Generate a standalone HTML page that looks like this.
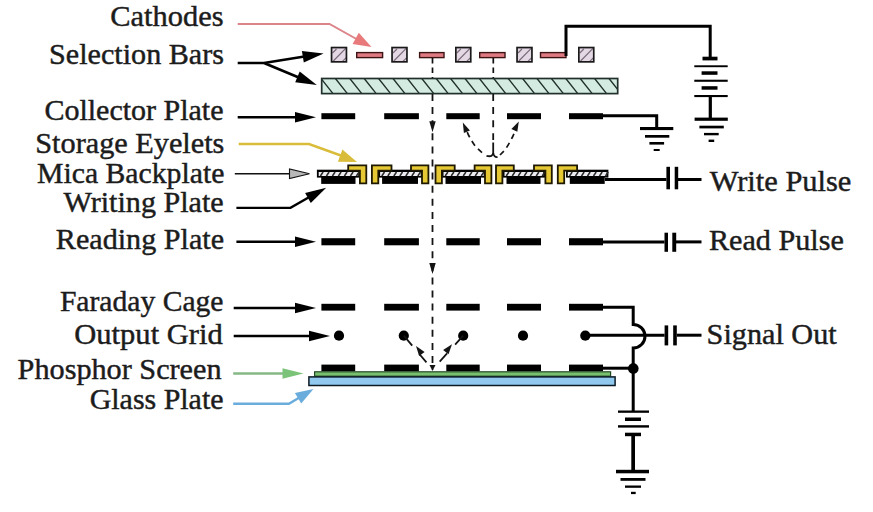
<!DOCTYPE html>
<html><head><meta charset="utf-8"><style>
html,body{margin:0;padding:0;background:#fff;width:873px;height:512px;overflow:hidden}
svg{display:block}
.t{font-family:"Liberation Serif",serif;font-size:30px;fill:#1c1c1c;stroke:#1c1c1c;stroke-width:0.45px}
</style></head><body>
<svg width="873" height="512" viewBox="0 0 873 512">
<rect width="873" height="512" fill="#fff"/>
<text transform="translate(110.29,0) scale(1.0146,1)" x="0" y="26.4" class="t">Cathodes</text>
<text transform="translate(49.09,0) scale(1.0047,1)" x="0" y="64.5" class="t">Selection Bars</text>
<text transform="translate(44.40,0) scale(1.0000,1)" x="0" y="120.0" class="t">Collector Plate</text>
<text transform="translate(35.28,0) scale(1.0092,1)" x="0" y="153.0" class="t">Storage Eyelets</text>
<text transform="translate(37.01,0) scale(0.9909,1)" x="0" y="183.5" class="t">Mica Backplate</text>
<text transform="translate(63.50,0) scale(1.0038,1)" x="0" y="212.5" class="t">Writing Plate</text>
<text transform="translate(55.80,0) scale(1.0048,1)" x="0" y="248.6" class="t">Reading Plate</text>
<text transform="translate(59.91,0) scale(0.9872,1)" x="0" y="310.9" class="t">Faraday Cage</text>
<text transform="translate(74.28,0) scale(1.0187,1)" x="0" y="343.9" class="t">Output Grid</text>
<text transform="translate(17.60,0) scale(1.0074,1)" x="0" y="379.3" class="t">Phosphor Screen</text>
<text transform="translate(89.70,0) scale(0.9977,1)" x="0" y="409.5" class="t">Glass Plate</text>
<text transform="translate(709.70,0) scale(1.0151,1)" x="0" y="190.6" class="t">Write Pulse</text>
<text transform="translate(708.90,0) scale(1.0060,1)" x="0" y="249.6" class="t">Read Pulse</text>
<text transform="translate(706.59,0) scale(1.0071,1)" x="0" y="343.8" class="t">Signal Out</text>
<path d="M237.7,24 H329.5 L360,41" fill="none" stroke="#dc8489" stroke-width="2"/>
<polygon points="371.5,47.0 352.6,44.1 358.8,32.7" fill="#e87a7c"/>
<path d="M237.7,63 H264 L306,56.3 M264,63 L300,78" fill="none" stroke="#000" stroke-width="2.6"/>
<polygon points="323.6,53.4 303.8,62.5 301.9,51.0" fill="#000"/>
<polygon points="316.8,85.1 295.2,82.3 299.7,71.6" fill="#000"/>
<path d="M237.7,117.2 H300" fill="none" stroke="#000" stroke-width="2.4"/>
<polygon points="316.0,117.2 295.0,122.5 295.0,111.9" fill="#000"/>
<path d="M238.7,144 H309 L345,157" fill="none" stroke="#d9bd3a" stroke-width="2.4"/>
<polygon points="357.0,162.0 337.9,161.8 342.4,149.6" fill="#d9bd3a"/>
<path d="M234.8,173.8 H292" fill="none" stroke="#111" stroke-width="1.6"/>
<polygon points="309.5,173.8 289.5,178.6 289.5,169.0" fill="#b8b8b8" stroke="#111" stroke-width="1.1" stroke-linejoin="miter"/>
<path d="M236.4,207.9 H290.5 L312,195.5" fill="none" stroke="#000" stroke-width="2.4"/>
<polygon points="326.2,187.7 310.8,203.1 305.1,193.0" fill="#000"/>
<path d="M236.4,241.8 H300" fill="none" stroke="#000" stroke-width="2.4"/>
<polygon points="316.0,241.8 295.0,247.1 295.0,236.5" fill="#000"/>
<path d="M233.7,308 H300" fill="none" stroke="#000" stroke-width="2.4"/>
<polygon points="316.0,308.0 295.0,313.3 295.0,302.7" fill="#000"/>
<path d="M233.7,336 H314" fill="none" stroke="#000" stroke-width="2.4"/>
<polygon points="330.0,336.0 309.0,341.3 309.0,330.7" fill="#000"/>
<path d="M233.2,373.5 H288" fill="none" stroke="#86b886" stroke-width="2.4"/>
<polygon points="303.5,373.5 282.5,378.8 282.5,368.2" fill="#7cc37a"/>
<path d="M233.2,403.7 H288.9 L302,396" fill="none" stroke="#6aacdc" stroke-width="2.4"/>
<polygon points="313.5,389.0 301.2,403.6 294.9,392.9" fill="#6aacdc"/>
<g><rect x="331.55" y="47.55" width="14.9" height="14.3" fill="#e4d8e4"/><path d="M332.5,53 L336.5,49 M333.3,61 L345.7,48.4 M342.7,61.2 L346.3,57.6" stroke="#7b6b7b" stroke-width="1.2" fill="none"/><rect x="331.55" y="47.55" width="14.9" height="14.3" fill="none" stroke="#1a1a1a" stroke-width="1.7"/></g>
<g><rect x="392.05" y="47.55" width="14.9" height="14.3" fill="#e4d8e4"/><path d="M393.0,53 L397.0,49 M393.8,61 L406.2,48.4 M403.2,61.2 L406.8,57.6" stroke="#7b6b7b" stroke-width="1.2" fill="none"/><rect x="392.05" y="47.55" width="14.9" height="14.3" fill="none" stroke="#1a1a1a" stroke-width="1.7"/></g>
<g><rect x="455.85" y="47.55" width="14.9" height="14.3" fill="#e4d8e4"/><path d="M456.8,53 L460.8,49 M457.6,61 L470,48.4 M467,61.2 L470.6,57.6" stroke="#7b6b7b" stroke-width="1.2" fill="none"/><rect x="455.85" y="47.55" width="14.9" height="14.3" fill="none" stroke="#1a1a1a" stroke-width="1.7"/></g>
<g><rect x="517.0500000000001" y="47.55" width="14.9" height="14.3" fill="#e4d8e4"/><path d="M518.0,53 L522.0,49 M518.8000000000001,61 L531.2,48.4 M528.2,61.2 L531.8000000000001,57.6" stroke="#7b6b7b" stroke-width="1.2" fill="none"/><rect x="517.0500000000001" y="47.55" width="14.9" height="14.3" fill="none" stroke="#1a1a1a" stroke-width="1.7"/></g>
<g><rect x="578.85" y="47.55" width="14.9" height="14.3" fill="#e4d8e4"/><path d="M579.8,53 L583.8,49 M580.6,61 L593,48.4 M590,61.2 L593.6,57.6" stroke="#7b6b7b" stroke-width="1.2" fill="none"/><rect x="578.85" y="47.55" width="14.9" height="14.3" fill="none" stroke="#1a1a1a" stroke-width="1.7"/></g>
<rect x="356.7" y="52.6" width="25.900000000000013" height="5" fill="#e07a82" stroke="#3d1416" stroke-width="1.4"/>
<rect x="419.59999999999997" y="52.6" width="24.400000000000013" height="5" fill="#e07a82" stroke="#3d1416" stroke-width="1.4"/>
<rect x="479.7" y="52.6" width="25.29999999999999" height="5" fill="#e07a82" stroke="#3d1416" stroke-width="1.4"/>
<rect x="540.5" y="52.6" width="25.500000000000092" height="5" fill="#e07a82" stroke="#3d1416" stroke-width="1.4"/>
<path d="M432.5,58 V78 M493.3,58 V78" stroke="#111" stroke-width="1.7" stroke-dasharray="5.5 4" fill="none"/>
<clipPath id="gp"><rect x="321.7" y="78.5" width="296" height="15.1"/></clipPath>
<rect x="321.7" y="78.5" width="296" height="15.1" fill="#d3ebe1"/>
<path d="M306.6,78.5 L318.6,93.6 M321.0,78.5 L333.0,93.6 M335.4,78.5 L347.4,93.6 M349.8,78.5 L361.8,93.6 M364.2,78.5 L376.2,93.6 M378.6,78.5 L390.6,93.6 M393.0,78.5 L405.0,93.6 M407.4,78.5 L419.4,93.6 M421.8,78.5 L433.8,93.6 M436.2,78.5 L448.2,93.6 M450.6,78.5 L462.6,93.6 M465.0,78.5 L477.0,93.6 M479.4,78.5 L491.4,93.6 M493.8,78.5 L505.8,93.6 M508.2,78.5 L520.2,93.6 M522.6,78.5 L534.6,93.6 M537.0,78.5 L549.0,93.6 M551.4,78.5 L563.4,93.6 M565.8,78.5 L577.8,93.6 M580.2,78.5 L592.2,93.6 M594.6,78.5 L606.6,93.6 M609.0,78.5 L621.0,93.6 M623.4,78.5 L635.4,93.6 " stroke="#22302b" stroke-width="1.35" clip-path="url(#gp)" fill="none"/>
<rect x="321.7" y="78.5" width="296" height="15.1" fill="none" stroke="#22302b" stroke-width="1.7"/>
<path d="M566,56 V26.2 H710.2 V57" fill="none" stroke="#000" stroke-width="3"/>
<rect x="702.5" y="56.7" width="15.0" height="3.6999999999999957" fill="#000"/>
<rect x="694.3" y="65.3" width="33.40000000000009" height="1.9000000000000057" fill="#000"/>
<rect x="701.6" y="71.3" width="15.899999999999977" height="3.5" fill="#000"/>
<rect x="694.3" y="79.7" width="33.40000000000009" height="2.0999999999999943" fill="#000"/>
<rect x="701.6" y="86.2" width="15.899999999999977" height="3.5" fill="#000"/>
<rect x="694.3" y="95" width="33.40000000000009" height="2.0999999999999943" fill="#000"/>
<rect x="708.7" y="97" width="3.199999999999932" height="21" fill="#000"/>
<rect x="694.6" y="117.6" width="33.19999999999993" height="3.200000000000003" fill="#000"/>
<rect x="699.4" y="125.7" width="24.399999999999977" height="2.700000000000003" fill="#000"/>
<rect x="704" y="132.9" width="14.700000000000045" height="2.4000000000000057" fill="#000"/>
<rect x="708.6" y="139.6" width="5.600000000000023" height="2.4000000000000057" fill="#000"/>
<rect x="321.4" y="113.2" width="33.80000000000001" height="6.0" fill="#000"/>
<rect x="384.2" y="113.2" width="34.69999999999999" height="6.0" fill="#000"/>
<rect x="446.3" y="113.2" width="33.39999999999998" height="6.0" fill="#000"/>
<rect x="507" y="113.2" width="34" height="6.0" fill="#000"/>
<rect x="569" y="113.2" width="34" height="6.0" fill="#000"/>
<path d="M601,115.7 H656.7 V128" fill="none" stroke="#000" stroke-width="3"/>
<rect x="640" y="127" width="33.299999999999955" height="3.0999999999999943" fill="#000"/>
<rect x="645" y="135" width="24.299999999999955" height="2.6999999999999886" fill="#000"/>
<rect x="649.4" y="142" width="14.700000000000045" height="2.5999999999999943" fill="#000"/>
<rect x="653.7" y="149" width="6.0" height="2" fill="#000"/>
<rect x="321.2" y="177" width="34.30000000000001" height="6.900000000000006" fill="#000"/>
<rect x="316.9" y="169.7" width="43.10000000000002" height="7.900000000000006" fill="#000"/>
<rect x="318.7" y="172.0" width="39.5" height="4.0" fill="#ececf0"/>
<path d="M320.4,176 L323.1,172 M326.4,176 L329.1,172 M332.4,176 L335.1,172 M338.4,176 L341.1,172 M344.4,176 L347.1,172 M350.4,176 L353.1,172 M356.4,176 L359.1,172 " stroke="#2a2a2a" stroke-width="1.5" fill="none"/>
<rect x="382.1" y="177" width="35.89999999999998" height="6.900000000000006" fill="#000"/>
<rect x="378.3" y="169.7" width="44.19999999999999" height="7.900000000000006" fill="#000"/>
<rect x="380.1" y="172.0" width="40.599999999999966" height="4.0" fill="#ececf0"/>
<path d="M381.8,176 L384.5,172 M387.8,176 L390.5,172 M393.8,176 L396.5,172 M399.8,176 L402.5,172 M405.8,176 L408.5,172 M411.8,176 L414.5,172 M417.8,176 L420.5,172 " stroke="#2a2a2a" stroke-width="1.5" fill="none"/>
<rect x="445.5" y="177" width="35.5" height="6.900000000000006" fill="#000"/>
<rect x="441.7" y="169.7" width="43.80000000000001" height="7.900000000000006" fill="#000"/>
<rect x="443.5" y="172.0" width="40.19999999999999" height="4.0" fill="#ececf0"/>
<path d="M445.2,176 L447.9,172 M451.2,176 L453.9,172 M457.2,176 L459.9,172 M463.2,176 L465.9,172 M469.2,176 L471.9,172 M475.2,176 L477.9,172 M481.2,176 L483.9,172 " stroke="#2a2a2a" stroke-width="1.5" fill="none"/>
<rect x="506.5" y="177" width="34.0" height="6.900000000000006" fill="#000"/>
<rect x="502.7" y="169.7" width="42.30000000000001" height="7.900000000000006" fill="#000"/>
<rect x="504.5" y="172.0" width="38.700000000000045" height="4.0" fill="#ececf0"/>
<path d="M506.2,176 L508.9,172 M512.2,176 L514.9,172 M518.2,176 L520.9,172 M524.2,176 L526.9,172 M530.2,176 L532.9,172 M536.2,176 L538.9,172 M542.2,176 L544.9,172 " stroke="#2a2a2a" stroke-width="1.5" fill="none"/>
<rect x="569.8" y="177" width="34.89999999999998" height="6.900000000000006" fill="#000"/>
<rect x="566" y="169.7" width="42.39999999999998" height="7.900000000000006" fill="#000"/>
<rect x="567.8" y="172.0" width="38.80000000000007" height="4.0" fill="#ececf0"/>
<path d="M569.5,176 L572.2,172 M575.5,176 L578.2,172 M581.5,176 L584.2,172 M587.5,176 L590.2,172 M593.5,176 L596.2,172 M599.5,176 L602.2,172 M605.5,176 L608.2,172 " stroke="#2a2a2a" stroke-width="1.5" fill="none"/>
<path d="M348.2,165.3 H366.3 V183.3 H359.90000000000003 V170.6 H348.2 Z" fill="#e5c834" stroke="#1e1800" stroke-width="1.8"/>
<path d="M411.0,165.3 H428.4 V183.3 H422.0 V170.6 H411.0 Z" fill="#e5c834" stroke="#1e1800" stroke-width="1.8"/>
<path d="M474.6,165.3 H491.4 V183.3 H485.0 V170.6 H474.6 Z" fill="#e5c834" stroke="#1e1800" stroke-width="1.8"/>
<path d="M534.0,165.3 H551.8000000000001 V183.3 H545.4 V170.6 H534.0 Z" fill="#e5c834" stroke="#1e1800" stroke-width="1.8"/>
<path d="M371.90000000000003,183.3 V165.3 H391.5 V170.6 H378.3 V183.3 Z" fill="#e5c834" stroke="#1e1800" stroke-width="1.8"/>
<path d="M435.5,183.3 V165.3 H454.7 V170.6 H441.9 V183.3 Z" fill="#e5c834" stroke="#1e1800" stroke-width="1.8"/>
<path d="M496.0,183.3 V165.3 H513.8000000000001 V170.6 H502.4 V183.3 Z" fill="#e5c834" stroke="#1e1800" stroke-width="1.8"/>
<path d="M557.8,183.3 V165.3 H577.1 V170.6 H564.2 V183.3 Z" fill="#e5c834" stroke="#1e1800" stroke-width="1.8"/>
<path d="M605,179.5 H666.4" stroke="#000" stroke-width="3"/>
<rect x="666.4" y="166.8" width="3.6000000000000227" height="22.5" fill="#000"/>
<rect x="674.7" y="166.8" width="3.5" height="22.5" fill="#000"/>
<path d="M678,179.5 H701.5" stroke="#000" stroke-width="3"/>
<rect x="321.4" y="238.2" width="33.80000000000001" height="7.100000000000023" fill="#000"/>
<rect x="384.2" y="238.2" width="34.69999999999999" height="7.100000000000023" fill="#000"/>
<rect x="446.3" y="238.2" width="33.39999999999998" height="7.100000000000023" fill="#000"/>
<rect x="507" y="238.2" width="34" height="7.100000000000023" fill="#000"/>
<rect x="569" y="238.2" width="34" height="7.100000000000023" fill="#000"/>
<path d="M603,241.9 H664.5" stroke="#000" stroke-width="3"/>
<rect x="664.5" y="232.7" width="3.5" height="19.100000000000023" fill="#000"/>
<rect x="672.3" y="232.7" width="3.900000000000091" height="19.100000000000023" fill="#000"/>
<path d="M676,241.9 H701.5" stroke="#000" stroke-width="3"/>
<rect x="321.4" y="303.8" width="33.80000000000001" height="6.800000000000011" fill="#000"/>
<rect x="384.2" y="303.8" width="34.69999999999999" height="6.800000000000011" fill="#000"/>
<rect x="446.3" y="303.8" width="33.39999999999998" height="6.800000000000011" fill="#000"/>
<rect x="507" y="303.8" width="34" height="6.800000000000011" fill="#000"/>
<rect x="569" y="303.8" width="34" height="6.800000000000011" fill="#000"/>
<path d="M603,307.2 H633.2 V324.4 A11.8,11.8 0 0 1 633.2,348 V411" fill="none" stroke="#000" stroke-width="3"/>
<circle cx="339" cy="335.7" r="5.1" fill="#000"/>
<circle cx="403.8" cy="335.7" r="5.1" fill="#000"/>
<circle cx="463.2" cy="335.7" r="5.1" fill="#000"/>
<circle cx="523" cy="335.7" r="5.1" fill="#000"/>
<circle cx="585.3" cy="335.7" r="5.1" fill="#000"/>
<path d="M585.6,335.2 H664.6" stroke="#000" stroke-width="3"/>
<rect x="664.6" y="325.4" width="3.6000000000000227" height="20.0" fill="#000"/>
<rect x="673.2" y="325.4" width="3.599999999999909" height="20.0" fill="#000"/>
<path d="M676.8,335.2 H701.5" stroke="#000" stroke-width="3"/>
<rect x="321.4" y="364.6" width="33.80000000000001" height="6.699999999999989" fill="#000"/>
<rect x="384.2" y="364.6" width="34.69999999999999" height="6.699999999999989" fill="#000"/>
<rect x="446.3" y="364.6" width="33.39999999999998" height="6.699999999999989" fill="#000"/>
<rect x="507" y="364.6" width="34" height="6.699999999999989" fill="#000"/>
<rect x="569" y="364.6" width="34" height="6.699999999999989" fill="#000"/>
<path d="M603,368.2 H633" stroke="#000" stroke-width="3"/>
<circle cx="633.3" cy="368.4" r="5.3" fill="#000"/>
<rect x="314.6" y="371.8" width="296" height="4.4" fill="#78c070" stroke="#234a23" stroke-width="1.2"/>
<rect x="308.9" y="376.9" width="306.2" height="8.6" fill="#90c8ee" stroke="#0c1a24" stroke-width="1.5"/>
<rect x="618" y="410.5" width="31" height="2.3000000000000114" fill="#000"/>
<rect x="625" y="417.5" width="16" height="3.5" fill="#000"/>
<rect x="618" y="425.2" width="31" height="2.400000000000034" fill="#000"/>
<rect x="625" y="432.7" width="16" height="3.5" fill="#000"/>
<rect x="631.3" y="436" width="3.7000000000000455" height="35" fill="#000"/>
<rect x="616" y="469.8" width="33" height="3.5" fill="#000"/>
<rect x="620.5" y="478" width="25.0" height="2.8000000000000114" fill="#000"/>
<rect x="625" y="485.5" width="16" height="2.3000000000000114" fill="#000"/>
<rect x="631" y="491.8" width="4.7000000000000455" height="2.3000000000000114" fill="#000"/>
<path d="M432.5,94 V369.5" stroke="#141414" stroke-width="1.8" stroke-dasharray="7 6.1" fill="none"/>
<polygon points="432.5,132.3 429.3,121.3 435.7,121.3" fill="#141414"/>
<polygon points="432.5,274.0 429.3,263.0 435.7,263.0" fill="#141414"/>
<path d="M493.2,94 V140" stroke="#141414" stroke-width="1.8" stroke-dasharray="7 6.1" fill="none"/>
<path d="M493.2,142.5 V152.5 Q493,157.5 486.5,155.8 M493.2,152.5 Q493.8,157.5 497.5,157" stroke="#141414" stroke-width="1.8" fill="none"/>
<path d="M482,152.6 L475.7,146.7 Q472,142 468,134 L465.5,128" stroke="#141414" stroke-width="1.7" stroke-dasharray="5.5 4.5" fill="none"/>
<path d="M500,155 L505,149.9 Q509,144 513,136 L516,129" stroke="#141414" stroke-width="1.7" stroke-dasharray="5.5 4.5" fill="none"/>
<polygon points="462.8,122.6 469.9,130.4 463.9,133.1" fill="#141414"/>
<polygon points="518.8,121.4 517.3,131.8 511.4,128.9" fill="#141414"/>
<path d="M403.8,335.7 L432.5,369.5" stroke="#141414" stroke-width="1.8" stroke-dasharray="13 11 11 20" fill="none"/>
<path d="M463.2,335.7 L432.5,369.5" stroke="#141414" stroke-width="1.8" stroke-dasharray="12 12 11 20" fill="none"/>
<polygon points="416.0,346.0 424.6,352.1 419.1,356.1" fill="#141414"/>
<polygon points="452.0,344.2 448.5,354.2 443.1,350.0" fill="#141414"/>
<polygon points="432.5,371.0 429.5,365.0 435.5,365.0" fill="#141414"/>
</svg>
</body></html>
